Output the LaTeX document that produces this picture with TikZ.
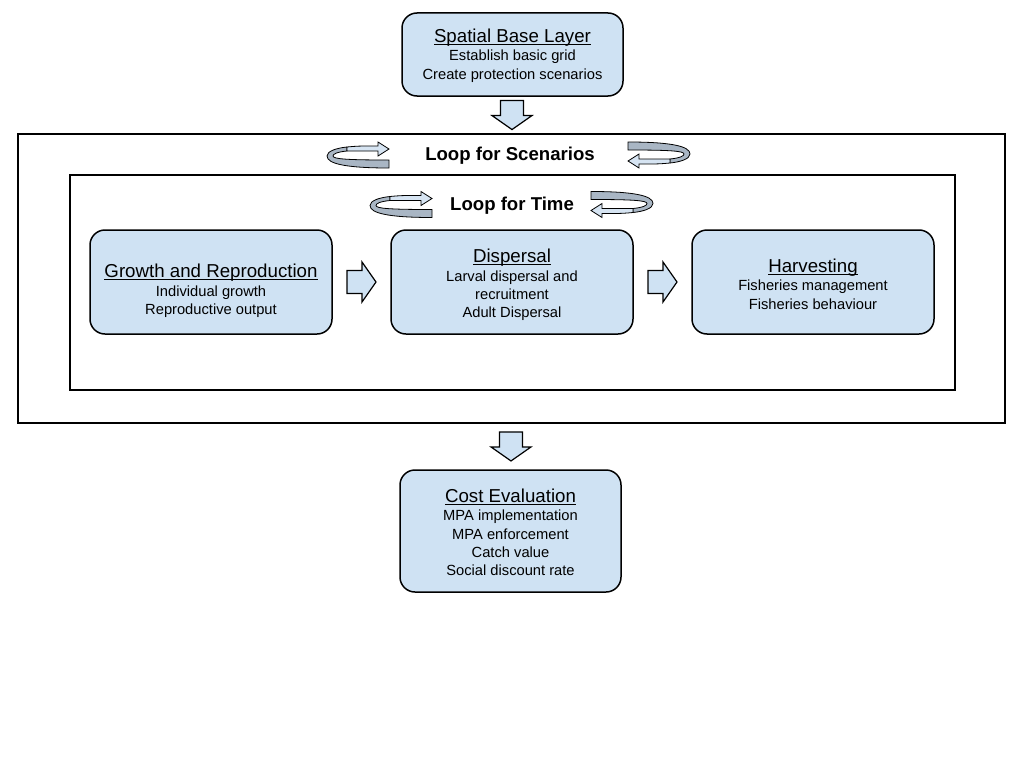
\documentclass[tikz,border=0pt]{standalone}
\usepackage{fontspec}
\setmainfont{Liberation Sans}
\usetikzlibrary{calc}
\definecolor{boxblue}{HTML}{CFE2F3}
\definecolor{ringgray}{HTML}{A9B6C4}
\definecolor{ringlight}{HTML}{D6E4F2}
\tikzset{
  box/.style={draw=black, line width=1.5pt, fill=boxblue, rounded corners=15pt, inner sep=0pt},
  boxtext/.style={align=center, inner sep=0pt, font=\fontsize{14.7}{18.3}\selectfont},
  frame/.style={draw=black, line width=1.3pt, inner sep=0pt},
  blockarrow/.pic={
    \path[draw=black, line width=1.2pt, fill=boxblue]
      (-14.5,-11.5) -- (0.5,-11.5) -- (0.5,-20) -- (14.5,0) -- (0.5,20)
      -- (0.5,11.5) -- (-14.5,11.5) -- cycle;
  },
  looplabel/.style={font=\fontsize{18.6}{20}\selectfont\bfseries, inner sep=0pt},
  loopring/.pic={
    \path[draw=black, line width=0.8pt, fill=ringgray]
      (31,5) -- (31,13) .. controls (-11,13) and (-31,9) .. (-31,1)
      .. controls (-31,-4) and (-21,-7) .. (-11,-8) -- (-11,-4)
      .. controls (-21,-3) and (-25,-1) .. (-25,1)
      .. controls (-25,4) and (-11,5) .. (31,5) -- cycle;
    \path[draw=black, line width=0.8pt, fill=ringlight]
      (-11,-8) .. controls (0,-9) .. (20,-9) -- (20,-13) -- (31,-6) -- (20,1)
      -- (20,-4) .. controls (0,-4) .. (-11,-4) -- cycle;
  }
}
\newcommand{\ttl}[1]{{\fontsize{18.7}{20}\selectfont\setbox0\hbox{#1}\rlap{\rule[-2pt]{\wd0}{0.9pt}}\box0}}
\begin{document}
\begin{tikzpicture}[x=1pt,y=-1pt]
\useasboundingbox (0,0) rectangle (1024,768);
% frames
\node[frame, minimum width=987pt, minimum height=289pt] (outer) at (511.5,278.5) {};
\node[frame, minimum width=885pt, minimum height=215pt] (inner) at (512.5,282.5) {};
% boxes
\node[box, minimum width=221pt, minimum height=83pt] (base) at (512.5,54.5) {};
\node[boxtext] (baset) at (512.5,55.5)
  {\ttl{Spatial Base Layer}\\[0pt]Establish basic grid\\Create protection scenarios};
\node[box, minimum width=242pt, minimum height=104pt] (growth) at (211,282) {};
\node[boxtext] (growtht) at (211,291)
  {\ttl{Growth and Reproduction}\\[0pt]Individual growth\\Reproductive output};
\node[box, minimum width=242pt, minimum height=104pt] (disp) at (512,282) {};
\node[boxtext] (dispt) at (512,285)
  {\ttl{Dispersal}\\[0pt]Larval dispersal and\\recruitment\\Adult Dispersal};
\node[box, minimum width=242pt, minimum height=104pt] (harv) at (813,282) {};
\node[boxtext] (harvt) at (813,284)
  {\ttl{Harvesting}\\[0pt]Fisheries management\\Fisheries behaviour};
\node[box, minimum width=221pt, minimum height=122pt] (cost) at (510.5,531) {};
\node[boxtext] (costt) at (510.5,532.5)
  {\ttl{Cost Evaluation}\\[0pt]MPA implementation\\MPA enforcement\\Catch value\\Social discount rate};
% block arrows
\coordinate (a1) at ($(base.south)!0.5!(outer.north)$);
\coordinate (a2) at ($(outer.south)!0.5!(cost.north)$);
\coordinate (a3) at ($(growth.east)!0.5!(disp.west)$);
\coordinate (a4) at ($(disp.east)!0.5!(harv.west)$);
\pic[rotate=-90] at (a1) {blockarrow};
\pic[rotate=-90] at (a2) {blockarrow};
\pic at (a3) {blockarrow};
\pic at (a4) {blockarrow};
% loop labels
\node[looplabel] (lscen) at (510,155.5) {Loop for Scenarios};
\node[looplabel] (ltime) at (512,206) {Loop for Time};
% loop rings
\pic at (358,155) {loopring};
\pic[rotate=180] at (659,155) {loopring};
\pic at (401,204.5) {loopring};
\pic[rotate=180] at (622,204.5) {loopring};
\end{tikzpicture}
\end{document}
